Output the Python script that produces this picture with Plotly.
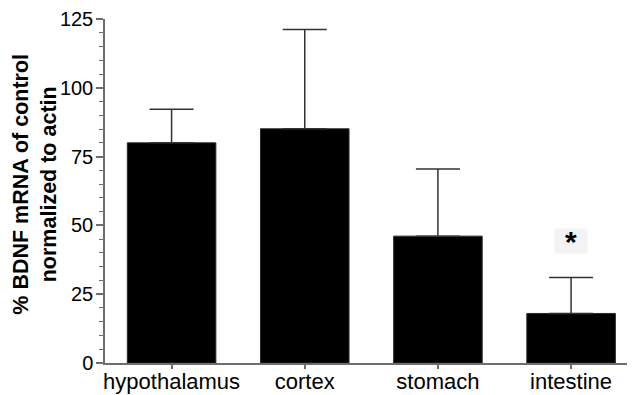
import plotly.graph_objects as go

categories = ["hypothalamus", "cortex", "stomach", "intestine"]
values = [80.0, 85.1, 46.1, 18.0]
errors_up = [12.2, 36.1, 24.4, 13.1]
y_ticks = [0, 25, 50, 75, 100, 125]
significance = ["", "", "", "*"]
y_title = "% BDNF mRNA of control<br>normalized to actin"

axis_color = "#6e6e6e"
font_family = "Liberation Sans, Arial, sans-serif"

fig = go.Figure()
fig.add_trace(go.Bar(
    x=categories,
    y=values,
    width=0.665,
    marker=dict(color="black", line=dict(color="#2a2a2a", width=1)),
    error_y=dict(
        type="data",
        symmetric=False,
        array=errors_up,
        arrayminus=[0] * len(values),
        color="#333333",
        thickness=1.5,
        width=22,
    ),
    showlegend=False,
))

for cat, v, e, s in zip(categories, values, errors_up, significance):
    if s:
        fig.add_annotation(
            x=cat, y=v + e + 13.7,
            text="<b>" + s + "</b>",
            showarrow=False,
            font=dict(family=font_family, size=30, color="black"),
            bgcolor="#f3f3f3",
            width=30, height=22,
            yanchor="middle",
            yshift=-1,
        )

# y-axis title as a rotated annotation (positioned like the reference)
fig.add_annotation(
    text="<b>" + y_title + "</b>",
    xref="paper", yref="paper",
    x=-0.131, y=0.52,
    xanchor="center", yanchor="middle",
    textangle=-90,
    showarrow=False,
    borderpad=0,
    font=dict(family=font_family, size=21.5, color="black"),
)

fig.update_layout(
    width=627,
    height=387,
    margin=dict(l=97, r=0, t=11, b=32, autoexpand=False),
    plot_bgcolor="white",
    paper_bgcolor="white",
    font=dict(family=font_family, color="black"),
    bargap=0.335,
)

fig.update_xaxes(
    range=[-0.5, 3.48],
    automargin=False,
    showline=True,
    linecolor=axis_color,
    linewidth=1.5,
    ticks="outside",
    ticklen=4,
    tickwidth=1.5,
    tickcolor=axis_color,
    tickfont=dict(family=font_family, size=22, color="black"),
    ticklabelstandoff=-6,
    showgrid=False,
    zeroline=False,
)

fig.update_yaxes(
    range=[0, 125],
    automargin=False,
    tickvals=y_ticks,
    showline=True,
    linecolor=axis_color,
    linewidth=1.5,
    ticks="outside",
    ticklen=7,
    tickwidth=1.5,
    tickcolor=axis_color,
    tickfont=dict(family=font_family, size=20, color="black"),
    ticklabelstandoff=-1,
    minor=dict(dtick=5, ticks="outside", ticklen=4, tickwidth=1, tickcolor=axis_color, showgrid=False),
    showgrid=False,
    zeroline=False,
)

fig.write_html("out.html")
